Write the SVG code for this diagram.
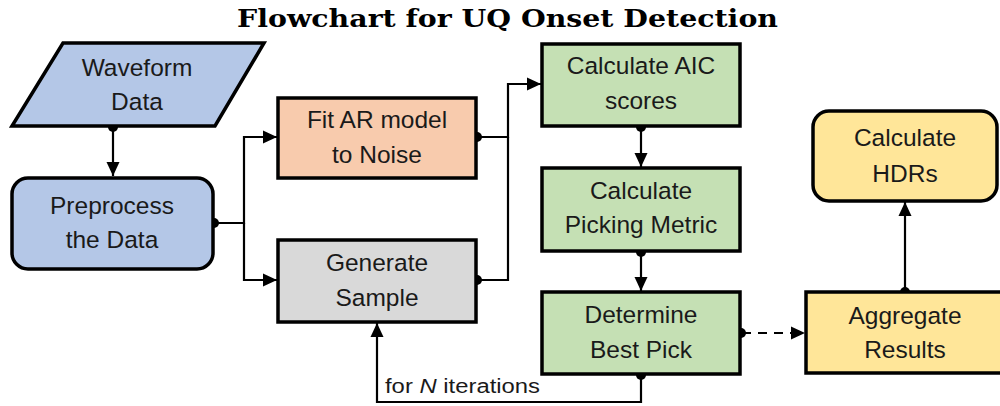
<svg xmlns="http://www.w3.org/2000/svg" width="1000" height="406" viewBox="0 0 1000 406">
<defs>
<style>
.box{stroke:#000;stroke-width:3.5}
.lbl{font-family:"Liberation Sans",Arial,sans-serif;font-size:24.5px;fill:#1a1a1a;text-anchor:middle}
.conn{fill:none;stroke:#000;stroke-width:2.2}
.dot{fill:#000}
.title{font-family:"DejaVu Serif","Liberation Serif",serif;font-weight:bold;font-size:25px;fill:#000}
</style>
<marker id="arrow" viewBox="0 0 14 14" refX="14" refY="7" markerWidth="14" markerHeight="14" orient="auto" markerUnits="userSpaceOnUse">
<path d="M0,0.5 L14,7 L0,13.5 z" fill="#000"/>
</marker>
</defs>
<rect width="1000" height="406" fill="#fff"/>
<text class="title" x="237" y="27" textLength="541" lengthAdjust="spacingAndGlyphs">Flowchart for UQ Onset Detection</text>

<g id="connectors">
<path class="conn" d="M113,127 V176" marker-end="url(#arrow)"/>
<path class="conn" d="M215,223 H244 V137 H277" marker-end="url(#arrow)"/>
<path class="conn" d="M244,223 V280 H277" marker-end="url(#arrow)"/>
<path class="conn" d="M478,137 H508 V84 H541" marker-end="url(#arrow)"/>
<path class="conn" d="M478,280 H508 V137"/>
<path class="conn" d="M641,127 V167" marker-end="url(#arrow)"/>
<path class="conn" d="M641,252 V291" marker-end="url(#arrow)"/>
<path class="conn" d="M742,333 H805" stroke-dasharray="9,7" marker-end="url(#arrow)"/>
<path class="conn" d="M905,291 V202" marker-end="url(#arrow)"/>
<path class="conn" d="M641,375 V402 H377 V323" marker-end="url(#arrow)"/>
<circle class="dot" cx="113" cy="127" r="5"/>
<circle class="dot" cx="214" cy="223" r="5"/>
<circle class="dot" cx="477" cy="137" r="5"/>
<circle class="dot" cx="477" cy="280" r="5"/>
<circle class="dot" cx="641" cy="127" r="5"/>
<circle class="dot" cx="641" cy="252" r="5"/>
<circle class="dot" cx="741" cy="333" r="5"/>
<circle class="dot" cx="641" cy="375" r="5"/>
<circle class="dot" cx="905" cy="292" r="5"/>
<text x="385" y="393" textLength="155" lengthAdjust="spacingAndGlyphs" style="font-family:'Liberation Sans',Arial,sans-serif;font-size:20px;fill:#1a1a1a">for <tspan font-style="italic">N</tspan> iterations</text>
</g>

<g id="waveform">
<polygon class="box" points="63,43 264,43 215,126 12,126" fill="#b4c7e7"/>
<text class="lbl" x="137" y="76">Waveform</text>
<text class="lbl" x="137" y="110">Data</text>
</g>
<g id="preprocess">
<rect class="box" x="12" y="178" width="201" height="91" rx="16" fill="#b4c7e7"/>
<text class="lbl" x="112" y="214">Preprocess</text>
<text class="lbl" x="112" y="248">the Data</text>
</g>
<g id="fitar">
<rect class="box" x="278" y="98" width="198" height="80" fill="#f8cbad"/>
<text class="lbl" x="377" y="128">Fit AR model</text>
<text class="lbl" x="377" y="163">to Noise</text>
</g>
<g id="generate">
<rect class="box" x="278" y="240" width="198" height="82" fill="#d9d9d9"/>
<text class="lbl" x="377" y="271">Generate</text>
<text class="lbl" x="377" y="306">Sample</text>
</g>
<g id="aic">
<rect class="box" x="542" y="44" width="198" height="82" fill="#c5e0b4"/>
<text class="lbl" x="641" y="74">Calculate AIC</text>
<text class="lbl" x="641" y="109">scores</text>
</g>
<g id="picking">
<rect class="box" x="542" y="168" width="198" height="83" fill="#c5e0b4"/>
<text class="lbl" x="641" y="199">Calculate</text>
<text class="lbl" x="641" y="233">Picking Metric</text>
</g>
<g id="bestpick">
<rect class="box" x="542" y="292" width="198" height="82" fill="#c5e0b4"/>
<text class="lbl" x="641" y="323">Determine</text>
<text class="lbl" x="641" y="358">Best Pick</text>
</g>
<g id="aggregate">
<rect class="box" x="806" y="292" width="200" height="81" fill="#ffe699"/>
<text class="lbl" x="905" y="324">Aggregate</text>
<text class="lbl" x="905" y="358">Results</text>
</g>
<g id="hdrs">
<rect class="box" x="813" y="111" width="184" height="90" rx="16" fill="#ffe699"/>
<text class="lbl" x="905" y="146">Calculate</text>
<text class="lbl" x="905" y="182">HDRs</text>
</g>
</svg>
